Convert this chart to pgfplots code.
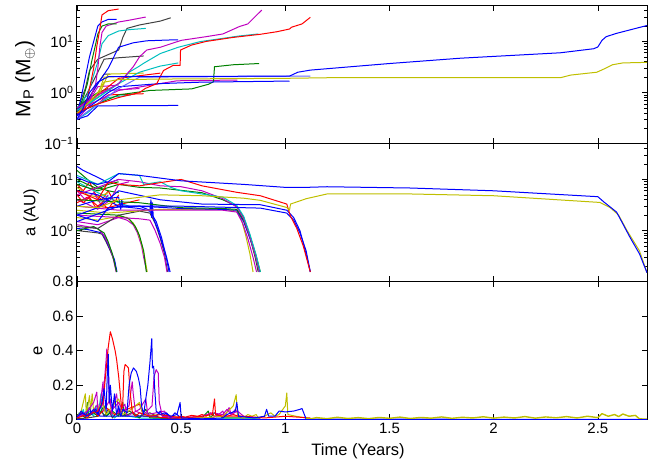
\documentclass[border=0pt]{standalone}
\usepackage{fontspec}
\setmainfont{Liberation Sans}
\usepackage{pgfplots}
\pgfplotsset{compat=1.18}
\definecolor{mb}{rgb}{0,0,1}
\definecolor{mg}{rgb}{0,0.5,0}
\definecolor{mr}{rgb}{1,0,0}
\definecolor{mc}{rgb}{0,0.75,0.75}
\definecolor{mm}{rgb}{0.75,0,0.75}
\definecolor{my}{rgb}{0.75,0.75,0}
\definecolor{mk}{rgb}{0.25,0.25,0.25}
\newcommand{\lab}{\fontsize{16.5}{18}\selectfont}
\pgfplotsset{panel/.style={scale only axis, width=570pt, height=138pt,
  xmin=0, xmax=2.736, tick align=inside,
  major tick length=5.5pt, minor tick length=3pt,
  axis line style={line width=1pt},
  every tick/.style={black, line width=0.6pt},
  tick label style={font=\fontsize{15}{15}\selectfont},
  xtick={0,0.5,1,1.5,2,2.5},
  every axis plot/.append style={line width=1pt, line join=round}}}
\begin{document}
\begin{tikzpicture}
\useasboundingbox (-77pt,5.7pt) rectangle (587pt,-460.3pt);
% ---------------- TOP: mass ----------------
\begin{axis}[panel, at={(0,0)}, anchor=north west, ymode=log, ymin=0.1, ymax=50,
  ytick={0.1,1,10}, yticklabels={10\textsuperscript{−1},10\textsuperscript{0},10\textsuperscript{1}},
  minor ytick={0.2,0.3,0.4,0.5,0.6,0.7,0.8,0.9,2,3,4,5,6,7,8,9,20,30,40},
  xticklabels={,,,,,},
  ylabel={\fontsize{21}{23}\selectfont M\textsubscript{P} (M\textsubscript{$\oplus$})},
  ylabel style={at={(axis description cs:-0.0912,0.47)},anchor=center}]
\addplot[mc] coordinates {(0,0.3)(0.05,0.4)(0.1,0.6)(0.15,0.8)(0.26,0.9)};
\addplot[mm] coordinates {(0,0.3)(0.05,0.5)(0.1,0.9)(0.15,1.1)(0.3,1.2)};
\addplot[mg] coordinates {(0,0.5)(0.04,0.7)(0.1,1.0)(0.15,1.2)};
\addplot[mk] coordinates {(0,0.5)(0.05,0.7)(0.1,1.5)(0.13,2.3)(0.16,2.3)};
\addplot[mm] coordinates {(0,0.35)(0.05,0.6)(0.1,1.3)(0.2,1.4)};
\addplot[my] coordinates {(0,0.45)(0.05,0.6)(0.1,0.9)(0.13,2.0)(0.25,2.1)};
\addplot[mr] coordinates {(0,0.4)(0.08,0.8)(0.15,1.3)(0.2,1.9)(0.4,2.4)};
\addplot[mr] coordinates {(0,0.4)(0.1,0.6)(0.15,0.9)(0.32,0.95)};
\addplot[mb] coordinates {(0,0.3)(0.05,0.35)(0.1,0.55)(0.486,0.56)};
\addplot[my] coordinates {(0,0.5)(0.1,0.8)(0.15,2.3)(0.32,2.4)};
\addplot[mc] coordinates {(0,0.4)(0.1,0.8)(0.2,1.5)(0.3,2.5)(0.4,3.3)(0.486,3.8)};
\addplot[mm] coordinates {(0,0.45)(0.1,0.7)(0.2,1.1)(0.48,1.7)(0.77,1.76)};
\addplot[mg] coordinates {(0,0.4)(0.1,0.6)(0.2,0.9)(0.35,1.1)(0.55,1.18)(0.63,1.45)(0.655,1.63)(0.66,3.2)(0.75,3.5)(0.874,3.7)};
\addplot[mb] coordinates {(0,0.35)(0.1,0.7)(0.15,1.0)(0.2,1.3)(0.4,1.5)(0.6,1.6)(1.02,1.68)};
\addplot[mb!60] coordinates {(0,0.3)(0.1,0.6)(0.2,1.2)(0.3,2.0)(1.12,2.1)};
\addplot[mk] coordinates {(0,0.4)(0.05,1)(0.1,2.5)(0.13,4.5)(0.2,4.8)(0.32,5.2)};
\addplot[mk] coordinates {(0,0.45)(0.04,1.2)(0.06,2.7)(0.1,4.5)(0.2,6.8)(0.22,12)(0.24,18)(0.3,21)(0.4,25)(0.45,29)};
\addplot[mb] coordinates {(0,0.4)(0.05,0.7)(0.1,1.5)(0.15,3)(0.2,7.7)(0.27,9.4)(0.335,10.3)(0.45,10.7)(0.486,10.7)};
\addplot[mc] coordinates {(0,0.5)(0.05,0.9)(0.08,2.2)(0.1,4)(0.12,9)(0.15,13)(0.2,16)(0.25,17)(0.33,18)};
\addplot[mm] coordinates {(0,0.45)(0.06,0.7)(0.09,1.5)(0.1,3)(0.11,8)(0.12,15)(0.14,20)(0.2,24)(0.25,26)(0.33,30)};
\addplot[mg] coordinates {(0,0.4)(0.03,0.8)(0.05,1.5)(0.07,4)(0.09,9)(0.1,14)(0.12,20)(0.15,22)(0.19,22)};
\addplot[mb] coordinates {(0,0.35)(0.02,0.8)(0.04,2)(0.06,5)(0.08,10)(0.1,20)(0.12,24)(0.15,27)(0.19,27)};
\addplot[mr] coordinates {(0,0.4)(0.04,0.5)(0.06,1.2)(0.08,3)(0.095,8)(0.11,18)(0.12,33)(0.15,40)(0.2,43)};
\addplot[mc] coordinates {(0,0.45)(0.1,0.8)(0.2,1.5)(0.25,2.5)(0.3,3.3)(0.318,3.7)(0.4,5.8)(0.486,7.7)(0.59,9.9)(0.78,12.8)(0.87,14)};
\addplot[mm] coordinates {(0,0.5)(0.1,0.9)(0.2,1.5)(0.27,3.2)(0.3,5)(0.335,6.8)(0.4,7.7)(0.45,9)(0.5,10.5)(0.62,12.4)(0.7,14)(0.78,19.6)(0.82,22)(0.863,33)(0.887,41)};
\addplot[mr] coordinates {(0,0.4)(0.05,0.5)(0.1,0.6)(0.2,0.8)(0.3,1.0)(0.327,1.2)(0.383,1.5)(0.415,2.7)(0.462,3.4)(0.495,3.4)(0.497,6.8)(0.55,8.5)(0.62,10)(0.75,12)(0.88,13.8)(0.96,15.5)(1.02,17.5)(1.03,19)(1.08,22)(1.12,29.6)};
\addplot[my] coordinates {(0,0.4)(0.05,0.6)(0.1,1.0)(0.13,1.6)(0.2,1.8)(0.5,1.85)(1.0,1.9)(1.2,1.95)(2.32,1.95)(2.37,2.2)(2.495,2.5)(2.53,2.9)(2.57,3.5)(2.62,3.8)(2.736,3.9)};
\addplot[mb] coordinates {(0,0.3)(0.03,0.5)(0.06,1)(0.1,1.6)(0.15,2.05)(1.02,2.1)(1.06,2.5)(1.12,2.75)(1.5,3.7)(1.84,4.7)(2.32,6.0)(2.48,7.2)(2.5,7.8)(2.52,10.5)(2.54,12.4)(2.59,14.4)(2.736,20.5)};
\end{axis}
% ---------------- MIDDLE: semi-major axis ----------------
\begin{axis}[panel, at={(0,-138pt)}, anchor=north west, ymode=log, ymin=0.1, ymax=50,
  ytick={0.1,1,10}, yticklabels={,10\textsuperscript{0},10\textsuperscript{1}},
  minor ytick={0.2,0.3,0.4,0.5,0.6,0.7,0.8,0.9,2,3,4,5,6,7,8,9,20,30,40},
  xticklabels={,,,,,},
  ylabel={\lab a (AU)},
  ylabel style={at={(axis description cs:-0.0807,0.5)},anchor=center}]
\addplot[mr] coordinates {(0,8)(0.03,6)(0.06,9)(0.09,5)(0.12,4)(0.15,6)(0.18,3.5)(0.2,5)};
\addplot[mg] coordinates {(0,15)(0.05,10)(0.1,7)(0.15,6)(0.2,5.5)};
\addplot[mc] coordinates {(0,9)(0.05,7)(0.1,5.5)(0.15,4.5)(0.2,3.5)(0.25,3)};
\addplot[mm] coordinates {(0,4)(0.05,3.3)(0.1,2.6)(0.12,3.5)(0.15,5)};
\addplot[mr] coordinates {(0,3.5)(0.05,4.5)(0.1,3)(0.15,2.8)(0.2,3.2)(0.3,4)};
\addplot[mb] coordinates {(0,18)(0.03,15)(0.08,12)(0.12,10)(0.15,8.5)(0.2,10)};
\addplot[my] coordinates {(0,7)(0.05,5)(0.1,4.5)(0.15,5.5)};
\addplot[mm] coordinates {(0,6)(0.04,4)(0.08,5.5)(0.12,3)(0.16,4)(0.2,8)(0.25,9)};
\addplot[mg] coordinates {(0,10)(0.05,8)(0.1,6.5)(0.15,8)(0.2,9)};
\addplot[mr] coordinates {(0,5)(0.03,3.5)(0.06,4.5)(0.09,2.8)(0.12,3.5)(0.15,2.6)(0.18,4)};
% group ending ~0.19
\addplot[mk] coordinates {(0,1.0)(0.05,0.95)(0.1,0.9)(0.12,0.85)(0.14,0.6)(0.16,0.4)(0.18,0.25)(0.19,0.155)};
\addplot[mb] coordinates {(0,1.1)(0.05,1.05)(0.12,0.9)(0.14,0.65)(0.16,0.42)(0.18,0.27)(0.192,0.155)};
\addplot[mm] coordinates {(0,1.3)(0.1,1.1)(0.13,0.8)(0.15,0.55)(0.17,0.33)(0.188,0.155)};
\addplot[mg] coordinates {(0,1.0)(0.08,1.2)(0.13,0.9)(0.15,0.6)(0.17,0.35)(0.19,0.155)};
% group ending ~0.335
\addplot[mm] coordinates {(0,1.5)(0.1,1.3)(0.2,1.8)(0.24,1.6)(0.27,1.3)(0.29,0.9)(0.31,0.5)(0.32,0.3)(0.335,0.155)};
\addplot[my] coordinates {(0,1.8)(0.1,1.6)(0.2,1.9)(0.24,1.8)(0.27,1.4)(0.29,1.0)(0.31,0.55)(0.325,0.3)(0.337,0.155)};
\addplot[mg] coordinates {(0,2.2)(0.2,2.0)(0.25,1.7)(0.28,1.2)(0.3,0.8)(0.32,0.4)(0.333,0.155)};
% group ending ~0.44
\addplot[mk] coordinates {(0,1.2)(0.1,1.1)(0.2,2)(0.3,2.4)(0.35,2.2)(0.375,1.4)(0.4,0.7)(0.42,0.35)(0.435,0.155)};
\addplot[mm] coordinates {(0,2)(0.2,1.8)(0.3,1.7)(0.35,1.6)(0.375,1.0)(0.4,0.55)(0.42,0.3)(0.432,0.155)};
\addplot[mb] coordinates {(0,6)(0.1,5)(0.2,3)(0.3,2.7)(0.35,2.4)(0.38,1.5)(0.405,0.75)(0.425,0.35)(0.442,0.155)};
\addplot[mb] coordinates {(0,3)(0.1,4)(0.2,4.5)(0.21,2.6)(0.215,4)(0.22,3)(0.3,3)(0.35,2.5)(0.355,4)(0.358,1.8)(0.362,3.5)(0.366,1.9)(0.37,1.6)(0.39,1.0)(0.41,0.55)(0.43,0.3)(0.447,0.155)};
% group ending ~0.85
\addplot[my] coordinates {(0,2.5)(0.15,2.2)(0.4,2.6)(0.7,2.6)(0.767,2.4)(0.79,1.6)(0.81,0.8)(0.83,0.35)(0.845,0.155)};
\addplot[mm] coordinates {(0,3)(0.2,2.5)(0.4,2.5)(0.7,2.5)(0.767,2.3)(0.795,1.4)(0.82,0.7)(0.845,0.3)(0.862,0.155)};
\addplot[mb] coordinates {(0,2)(0.1,1.5)(0.15,2.8)(0.3,3)(0.5,2.7)(0.7,2.6)(0.767,2.5)(0.8,1.5)(0.83,0.7)(0.86,0.3)(0.878,0.155)};
\addplot[mg] coordinates {(0,4)(0.3,3.5)(0.5,2.8)(0.7,2.7)(0.767,2.6)(0.8,1.6)(0.83,0.75)(0.855,0.3)(0.87,0.155)};
\addplot[mg] coordinates {(0,8)(0.1,6)(0.2,8)(0.3,7)(0.4,6.8)(0.6,5.5)(0.7,4)(0.767,3.0)(0.8,1.8)(0.83,0.8)(0.86,0.32)(0.88,0.155)};
\addplot[mm] coordinates {(0,5)(0.1,7)(0.2,10)(0.3,9)(0.4,7.5)(0.5,7.2)(0.6,6)(0.7,4.2)(0.767,2.9)(0.8,1.7)(0.83,0.75)(0.858,0.3)(0.874,0.155)};
\addplot[mc] coordinates {(0,12)(0.1,8)(0.2,13)(0.3,12)(0.32,8)(0.4,9)(0.45,7)(0.5,6)(0.7,4.5)(0.767,3.1)(0.8,1.9)(0.83,0.85)(0.86,0.33)(0.88,0.155)};
% long lived
\addplot[mb] coordinates {(0,1.5)(0.2,3)(0.5,3)(0.88,2.75)(1.007,2.2)(1.04,1.6)(1.07,0.9)(1.1,0.4)(1.12,0.155)};
\addplot[mb] coordinates {(0,2)(0.1,2.8)(0.2,6)(0.4,4)(0.6,3.3)(0.88,3.2)(1.007,2.5)(1.04,1.8)(1.07,1.0)(1.09,0.5)(1.12,0.155)};
\addplot[mr] coordinates {(0,6)(0.1,4)(0.15,9)(0.2,8)(0.3,7.5)(0.5,10)(0.6,7.5)(0.767,5.6)(0.88,4.8)(1.007,3.3)(1.023,2.0)(1.055,1.1)(1.086,0.5)(1.12,0.155)};
\addplot[my] coordinates {(0,3)(0.1,2.8)(0.2,4)(0.4,5)(0.6,4.8)(0.8,4.3)(0.88,3.9)(1.007,2.83)(1.02,2.5)(1.025,3.3)(1.1,4.2)(1.2,5.2)(1.6,5.2)(2.0,4.8)(2.51,3.55)(2.56,2.8)(2.6,2.0)(2.64,1.0)(2.7,0.4)(2.736,0.15)};
\addplot[mb] coordinates {(0,11)(0.05,9)(0.1,8)(0.15,9)(0.2,13)(0.3,12)(0.5,9.4)(0.8,8)(1.0,7)(1.1,7)(1.2,7.2)(1.6,6.8)(2.0,6)(2.5,4.6)(2.53,3.6)(2.59,2.3)(2.655,0.73)(2.7,0.35)(2.736,0.15)};
\end{axis}
% ---------------- BOTTOM: eccentricity ----------------
\begin{axis}[panel, at={(0,-276pt)}, anchor=north west, ymin=0, ymax=0.8,
  ytick={0,0.2,0.4,0.6,0.8}, yticklabels={0,0.2,0.4,0.6,0.8},
  xticklabels={0,0.5,1,1.5,2,2.5},
  ylabel={\lab e}, xlabel={\lab Time (Years)},
  ylabel style={at={(axis description cs:-0.0684,0.5)},anchor=center},
  xlabel style={at={(axis description cs:0.493,-0.225)},anchor=center}]
\addplot[mc] coordinates {(0,0.01)(0.01,0.04)(0.02,0.02)(0.03,0.06)(0.04,0.01)(0.06,0.05)(0.08,0.02)(0.09,0.08)(0.1,0.03)(0.11,0.1)(0.115,0.15)(0.12,0.04)(0.14,0.02)(0.16,0.05)(0.18,0.01)(0.2,0.03)(0.3,0.01)(0.5,0.005)(0.88,0.005)};
\addplot[mg] coordinates {(0,0.005)(0.02,0.03)(0.04,0.01)(0.05,0.1)(0.055,0.02)(0.08,0.04)(0.1,0.02)(0.13,0.08)(0.14,0.02)(0.17,0.05)(0.2,0.02)(0.22,0.1)(0.23,0.02)(0.26,0.04)(0.3,0.01)(0.33,0.06)(0.35,0.01)(0.6,0.01)(0.63,0.05)(0.64,0.01)(0.66,0.04)(0.7,0.01)(0.88,0.01)};
\addplot[mk] coordinates {(0,0.005)(0.05,0.01)(0.1,0.02)(0.12,0.05)(0.13,0.02)(0.15,0.06)(0.17,0.01)(0.19,0.04)(0.22,0.02)(0.25,0.05)(0.3,0.02)(0.35,0.04)(0.4,0.01)(0.5,0.005)};
\addplot[mr] coordinates {(0,0.02)(0.02,0.04)(0.05,0.01)(0.08,0.06)(0.1,0.02)(0.14,0.07)(0.18,0.03)(0.22,0.05)(0.3,0.09)(0.32,0.02)(0.45,0.01)(0.5,0.02)(0.52,0.015)(0.55,0.025)(0.58,0.02)(0.6,0.03)(0.62,0.02)(0.64,0.04)(0.66,0.02)(0.7,0.03)(0.72,0.02)(0.75,0.03)(0.8,0.01)};
\addplot[mm] coordinates {(0,0.01)(0.02,0.03)(0.04,0.02)(0.07,0.04)(0.1,0.09)(0.105,0.03)(0.125,0.22)(0.128,0.05)(0.16,0.12)(0.165,0.03)(0.19,0.15)(0.2,0.04)(0.23,0.09)(0.24,0.02)(0.3,0.06)(0.33,0.12)(0.34,0.03)(0.42,0.05)(0.44,0.01)(0.65,0.01)(0.68,0.03)(0.7,0.05)(0.71,0.02)(0.73,0.07)(0.74,0.03)(0.76,0.06)(0.78,0.02)(0.8,0.01)};
\addplot[my] coordinates {(0,0.02)(0.02,0.05)(0.04,0.15)(0.045,0.03)(0.06,0.14)(0.065,0.05)(0.073,0.15)(0.08,0.04)(0.1,0.06)(0.12,0.1)(0.14,0.03)(0.17,0.08)(0.2,0.12)(0.22,0.03)(0.26,0.06)(0.3,0.1)(0.32,0.02)(0.4,0.03)(0.5,0.01)(0.6,0.01)(0.7,0.02)(0.75,0.08)(0.764,0.145)(0.77,0.03)(0.8,0.01)(0.82,0.03)(0.84,0.02)(0.86,0.03)(0.87,0.01)(0.9,0.02)(0.93,0.04)(0.95,0.02)(0.97,0.03)(1.0,0.08)(1.007,0.155)(1.012,0.03)(1.05,0.02)(1.1,0.01)};
\addplot[mb] coordinates {(0,0.01)(0.02,0.05)(0.04,0.02)(0.06,0.07)(0.07,0.03)(0.09,0.06)(0.11,0.02)(0.38,0.02)(0.4,0.05)(0.41,0.02)(0.43,0.04)(0.45,0.01)(0.47,0.04)(0.49,0.02)};
\addplot[mm] coordinates {(0,0.01)(0.05,0.05)(0.08,0.1)(0.095,0.16)(0.1,0.05)(0.12,0.08)(0.13,0.2)(0.14,0.35)(0.143,0.41)(0.15,0.3)(0.155,0.1)(0.17,0.06)(0.2,0.1)(0.22,0.05)(0.25,0.08)(0.265,0.22)(0.27,0.15)(0.28,0.05)(0.32,0.03)(0.36,0.08)(0.37,0.25)(0.38,0.29)(0.39,0.27)(0.395,0.1)(0.41,0.02)(0.5,0.01)(0.6,0.02)(0.65,0.04)(0.7,0.03)(0.72,0.06)(0.74,0.03)(0.77,0.05)(0.8,0.02)(0.88,0.01)};
\addplot[mr] coordinates {(0,0.01)(0.05,0.03)(0.1,0.05)(0.125,0.1)(0.135,0.23)(0.15,0.42)(0.16,0.51)(0.17,0.47)(0.183,0.40)(0.19,0.35)(0.2,0.25)(0.21,0.12)(0.215,0.06)(0.22,0.1)(0.225,0.28)(0.231,0.32)(0.24,0.31)(0.247,0.3)(0.255,0.16)(0.265,0.05)(0.28,0.02)(0.3,0.04)(0.35,0.02)(0.4,0.03)(0.5,0.01)(0.6,0.02)(0.65,0.03)(0.66,0.12)(0.665,0.03)(0.7,0.02)(0.8,0.02)(0.9,0.01)(1.0,0.02)(1.12,0.01)};
\addplot[mb] coordinates {(0,0.02)(0.03,0.04)(0.05,0.02)(0.08,0.06)(0.1,0.03)(0.12,0.1)(0.13,0.18)(0.14,0.05)(0.145,0.25)(0.15,0.38)(0.155,0.1)(0.16,0.2)(0.17,0.05)(0.18,0.15)(0.19,0.03)(0.2,0.08)(0.21,0.02)(0.22,0.06)(0.24,0.04)(0.25,0.2)(0.26,0.27)(0.271,0.30)(0.285,0.28)(0.295,0.24)(0.303,0.19)(0.31,0.08)(0.32,0.03)(0.33,0.12)(0.34,0.2)(0.35,0.33)(0.359,0.47)(0.362,0.3)(0.368,0.31)(0.372,0.2)(0.38,0.05)(0.4,0.03)(0.42,0.04)(0.45,0.02)(0.48,0.03)(0.495,0.1)(0.5,0.01)(0.6,0.005)(0.7,0.01)(0.72,0.03)(0.76,0.05)(0.767,0.1)(0.775,0.02)(0.85,0.01)(0.9,0.02)(0.91,0.06)(0.92,0.02)(0.95,0.02)(0.97,0.05)(1.0,0.045)(1.04,0.05)(1.07,0.06)(1.08,0.065)(1.1,0.003)(2.736,0.002)};
\addplot[my, line width=1.4pt] coordinates {(1.1,0.01)(1.12,0.005)(1.15,0.012)(1.2,0.006)(1.25,0.014)(1.3,0.007)(1.35,0.012)(1.4,0.006)(1.45,0.013)(1.5,0.008)(1.55,0.015)(1.6,0.007)(1.65,0.013)(1.7,0.009)(1.75,0.016)(1.8,0.008)(1.85,0.014)(1.9,0.01)(1.95,0.017)(2.0,0.009)(2.05,0.015)(2.1,0.01)(2.15,0.018)(2.2,0.009)(2.25,0.016)(2.3,0.011)(2.35,0.018)(2.4,0.01)(2.45,0.02)(2.5,0.012)(2.52,0.035)(2.55,0.02)(2.58,0.03)(2.6,0.018)(2.62,0.033)(2.65,0.02)(2.68,0.025)(2.7,0.005)(2.736,0.003)};
\addplot[mb, line width=1.6pt] coordinates {(0,0.002)(2.736,0.002)};
\node[anchor=north east, inner sep=0pt, font=\fontsize{15}{15}\selectfont] at (rel axis cs:1,0) [yshift=-23pt,xshift=1pt] {x 10\textsuperscript{6}};
\end{axis}
\end{tikzpicture}
\end{document}
